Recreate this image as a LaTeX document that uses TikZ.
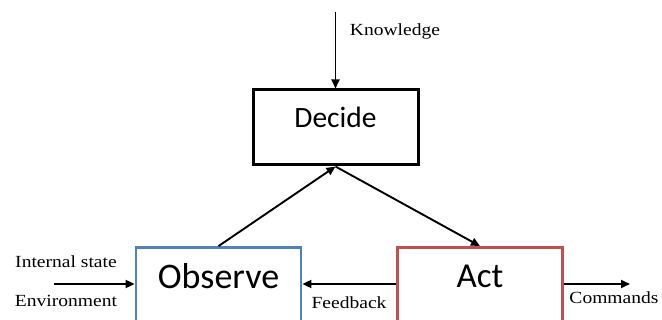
\documentclass[tikz,border=0pt]{standalone}
\usepackage{fontspec}
\setmainfont{Liberation Serif}
\newfontfamily\boxfont{Carlito}
\usetikzlibrary{arrows.meta}
\definecolor{obsblue}{HTML}{4F81BD}
\definecolor{actred}{HTML}{C0504D}
\begin{document}
\begin{tikzpicture}[x=1pt,y=-1pt,
  stagebox/.style={draw, rectangle, inner xsep=0pt, inner ysep=0pt, minimum width=165pt},
  lbl/.style={font=\fontsize{17}{17}\selectfont, anchor=base, xscale=1.15, transform shape},
  flow/.style={draw=black, line width=1.9pt, -{Triangle[length=9pt,width=8pt]}}]
  \clip (0,0) rectangle (662,320);
  \fill[white] (0,0) rectangle (662,320);

  % the three stages
  \node[stagebox, line width=3pt, text height=38pt, text depth=37pt,
        font=\boxfont\fontsize{29.5}{29.5}\selectfont] (decide) at (335.5,127.5) {Decide};
  \node[stagebox, draw=obsblue, line width=2.8pt, text height=41pt, text depth=40pt,
        font=\boxfont\fontsize{36}{36}\selectfont] (observe) at (218.5,288) {Observe};
  \node[stagebox, draw=actred, line width=2.8pt, text height=40pt, text depth=41pt,
        font=\boxfont\fontsize{35}{35}\selectfont] (act) at (480,288) {Act};

  % free ends of the outer arrows
  \coordinate (kin) at (335.5,12);
  \coordinate (envin) at (54,284);
  \coordinate (cmdout) at (630,284);

  % connectors
  \draw[flow] (kin) -- (decide.north);
  \draw[flow] (observe.north) -- (decide.south);
  \draw[flow] (decide.south) -- (act.north);
  \draw[flow] (envin) -- (envin -| observe.west);
  \draw[flow] (act.west |- envin) -- (observe.east |- envin);
  \draw[flow] (act.east |- cmdout) -- (cmdout);

  % labels
  \node[lbl] (knowledge) at (395,36) {Knowledge};
  \node[lbl] (internal) at (66,268) {Internal state};
  \node[lbl] (environment) at (66,307) {Environment};
  \node[lbl] (feedback) at (349,309) {Feedback};
  \node[lbl] (commands) at (614,304) {Commands};
\end{tikzpicture}
\end{document}
